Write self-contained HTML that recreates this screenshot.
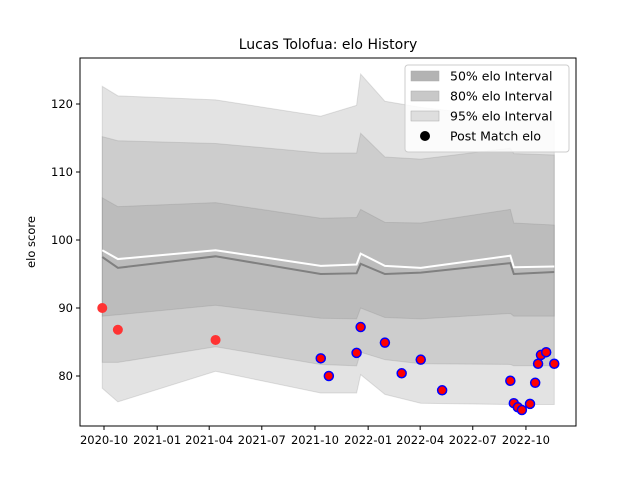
<!DOCTYPE html>
<html><head><meta charset="utf-8"><style>
body{margin:0;background:#fff;font-family:"Liberation Sans","DejaVu Sans",sans-serif}
svg text{font-family:"DejaVu Sans","Liberation Sans",sans-serif}
</style></head><body>
<svg id="chart" width="640" height="480" xmlns="http://www.w3.org/2000/svg">
<rect width="640" height="480" fill="#fff"/>
<g id="bands"></g><g id="lines"></g><g id="pts"></g><g id="axes"></g>
</svg>
<script>
const nodeDates=["2020-09-28","2020-10-25","2021-04-12","2021-10-11","2021-12-12","2021-12-19","2022-01-30","2022-04-02","2022-09-04","2022-09-10","2022-11-19"];
const meanVals=[98.5,97.2,98.5,96.2,96.4,98.0,96.2,95.9,97.7,96.0,96.1];
const medianVals=[97.5,95.9,97.6,95.0,95.1,96.5,95.0,95.2,96.6,95.0,95.3];
const hi50=[106.2,104.9,105.5,103.2,103.3,104.5,102.6,102.5,104.5,102.5,102.2];
const lo50=[88.8,89.0,90.4,88.5,88.4,90.0,88.6,88.4,89.2,88.8,88.8];
const hi80=[115.2,114.6,114.2,112.8,112.8,115.7,112.2,111.9,113.5,112.7,112.5];
const lo80=[82.0,82.0,84.3,81.7,81.5,83.5,82.4,81.8,81.7,81.5,81.5];
const hi95=[122.6,121.2,120.6,118.2,119.8,124.4,120.4,119.5,118.0,117.5,117.5];
const lo95=[78.2,76.2,80.7,77.5,77.5,80.2,77.3,76.0,75.8,75.8,75.8];
const matchDates=["2020-09-28","2020-10-25","2021-04-12","2021-10-11","2021-10-25","2021-12-12","2021-12-19","2022-01-30","2022-02-28","2022-04-02","2022-05-09","2022-09-04","2022-09-10","2022-09-17","2022-09-24","2022-10-08","2022-10-17","2022-10-22","2022-10-27","2022-11-05","2022-11-19"];
const matchElo=[90.0,86.8,85.3,82.6,80.0,83.4,87.2,84.9,80.4,82.4,77.9,79.3,76.0,75.4,75.0,75.9,79.0,81.8,83.1,83.5,81.8];
const matchBlue=[0,0,0,1,1,1,1,1,1,1,1,1,1,1,1,1,1,1,1,1,1];
const xTickLabels=["2020-10","2021-01","2021-04","2021-07","2021-10","2022-01","2022-04","2022-07","2022-10"];
const yTicks=[80,90,100,110,120];
const NS="http://www.w3.org/2000/svg";
const L=80,R=576,T=58,B=426;
const day=s=>Date.UTC(+s.slice(0,4),+s.slice(5,7)-1,+(s.slice(8,10)||1))/864e5;
const d0=day("2020-10-01");
const x=s=>104+(day(s)-d0)*0.578;
const y=v=>376-(v-80)*6.8;
function mk(tag,attrs,parent){const e=document.createElementNS(NS,tag);for(const k in attrs)e.setAttribute(k,attrs[k]);document.getElementById(parent).appendChild(e);return e;}
function band(hi,lo,fill,name){
  let p=nodeDates.map((d,i)=>x(d)+","+y(hi[i]));
  for(let i=nodeDates.length-1;i>=0;i--)p.push(x(nodeDates[i])+","+y(lo[i]));
  const e=mk("polygon",{points:p.join(" "),fill:fill,stroke:fill,"stroke-width":1},"bands");
  
  
}
band(hi95,lo95,"rgba(128,128,128,0.22)","band-95");
band(hi80,lo80,"rgba(128,128,128,0.22)","band-80");
band(hi50,lo50,"rgba(128,128,128,0.22)","band-50");
function line(vals,col,name){
  const e=mk("polyline",{points:nodeDates.map((d,i)=>x(d)+","+y(vals[i])).join(" "),fill:"none",stroke:col,"stroke-width":2},"lines");
  
  
}
line(medianVals,"#808080","median-line");
line(meanVals,"#ffffff","mean-line");
matchDates.forEach((d,i)=>{
  const e=mk("circle",{cx:x(d),cy:y(matchElo[i]),r:matchBlue[i]?4.5:5,fill:matchBlue[i]?"#ff0000":"#ff3333",stroke:matchBlue[i]?"#0000ff":"none","stroke-width":1.5},"pts");
  
  
});
let fr=mk("rect",{x:L,y:T,width:R-L,height:B-T,fill:"none",stroke:"#000","stroke-width":1},"axes");


xTickLabels.forEach(s=>{
  const px=x(s+"-01");
  mk("line",{x1:px,x2:px,y1:B,y2:B+4,stroke:"#000"},"axes");
  const t=mk("text",{x:px,y:B+18,"text-anchor":"middle","font-size":"11.5"},"axes");t.textContent=s;
  
  
});
yTicks.forEach(v=>{
  const py=y(v);
  mk("line",{x1:L-4,x2:L,y1:py,y2:py,stroke:"#000"},"axes");
  const t=mk("text",{x:L-7,y:py+4,"text-anchor":"end","font-size":"11.5"},"axes");t.textContent=v;
  
  
});
let yt=mk("text",{x:0,y:0,transform:"translate(35,242) rotate(-90)","text-anchor":"middle","font-size":"11.5"},"axes");yt.textContent="elo score";


let tt=mk("text",{x:328,y:49,"text-anchor":"middle","font-size":"14"},"axes");tt.textContent="Lucas Tolofua: elo History";


let lg=mk("g",{},"axes");


mk("rect",{x:405,y:65,width:164,height:87,rx:3,fill:"rgba(255,255,255,0.85)",stroke:"#ccc"},"axes");
const legItems=[["50% elo Interval","#b3b3b3"],["80% elo Interval","#c8c8c8"],["95% elo Interval","#dedede"],["Post Match elo",null]];
legItems.forEach((it,i)=>{
  const cy=76+i*20;
  if(it[1])mk("rect",{x:411,y:cy-5,width:28,height:10,fill:it[1],stroke:"#aaa","stroke-width":0.5},"axes");
  else mk("circle",{cx:425,cy:cy,r:5,fill:"#000"},"axes");
  const t=mk("text",{x:450,y:cy+4.5,"font-size":"12.5"},"axes");t.textContent=it[0];
  
  
});
</script>
</body></html>
